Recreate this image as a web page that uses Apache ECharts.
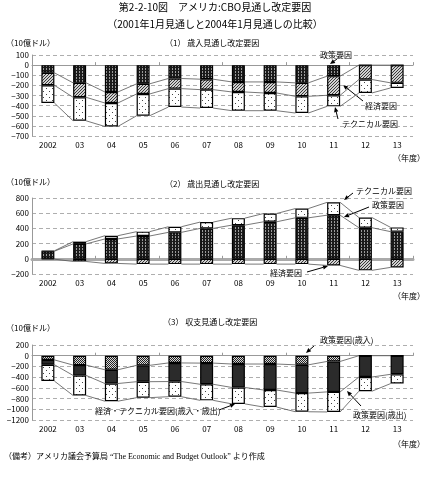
<!DOCTYPE html>
<html><head><meta charset="utf-8">
<script src="https://cdn.jsdelivr.net/npm/echarts@6/dist/echarts.min.js"></script>
<style>html,body{margin:0;padding:0;background:#fff}#c{width:430px;height:477px}</style>
</head><body><div id="c"></div>
<script>
// ---- data ----
const years = ['2002','03','04','05','06','07','08','09','10','11','12','13'];
// (1) revenue revision factors
const revPolicy = [-76,-175,-265,-185,-132,-139,-166,-166,-175,-109,0,0];
const revEcon   = [-123,-143,-109,-100,-100,-103,-99,-109,-133,-189,-142,-175];
const revTech   = [-175,-232,-232,-215,-182,-182,-185,-175,-165,-109,-133,-50];
// (2) outlay revision factors
const outPolicy = [100,196,261,300,348,400,443,487,539,574,409,357];
const outTech   = [5,30,43,57,74,83,92,109,122,169,134,56];
const outEcon   = [-5,-35,-61,-70,-70,-70,-70,-70,-70,-87,-152,-113];
// (3) balance revision factors
const balPolRev   = [-78,-175,-262,-180,-135,-138,-155,-155,-170,-107,0,0];
const balPolOut   = [-90,-193,-257,-305,-347,-395,-438,-485,-528,-568,-398,-347];
const balEconTech = [-305,-375,-330,-298,-283,-300,-306,-318,-348,-375,-265,-173];

const BAR_W = 13;
const FONT = '"Noto Sans CJK JP","Noto Sans",sans-serif';

function pat(w,h,bg,fg,pts){
  const c=document.createElement('canvas');c.width=w;c.height=h;
  const x=c.getContext('2d');x.fillStyle=bg;x.fillRect(0,0,w,h);x.fillStyle=fg;
  pts.forEach(p=>x.fillRect(p[0],p[1],1,1));
  return {image:c,repeat:'repeat'};
}
const darkCross = pat(3,3,'#1a1a1a','#9a9a9a',[[1,0],[1,2]]);
const diagHatch = pat(3,3,'#d0d0d0','#3a3a3a',[[0,2],[1,1],[2,0]]);
const dotted    = pat(6,6,'#fff','#444',[[1,1],[4,4]]);
const checker   = pat(2,2,'#d8d8d8','#222',[[0,0],[1,1]]);
const solidDark = '#2b2b2b';

function cum(){ const arrs=[...arguments]; return years.map((_,i)=>arrs.reduce((s,a)=>s+a[i],0)); }

function bar(name,data,g,color,stack){
  return {type:'bar',name,data,xAxisIndex:2*g,yAxisIndex:g,stack,barWidth:BAR_W,
    itemStyle:{color,borderColor:'#000',borderWidth:1.2},silent:true,animation:false};
}
function connector(vals,g){
  const data=[];
  for(let i=0;i<vals.length-1;i++) data.push([i,vals[i],vals[i+1]]);
  return {type:'custom',xAxisIndex:2*g,yAxisIndex:g,silent:true,z:1,animation:false,
    encode:{x:0,y:[1,2]},data,
    renderItem(params,api){
      const i=api.value(0);
      const a=api.coord([i,api.value(1)]);
      const b=api.coord([i+1,api.value(2)]);
      const hw=BAR_W/2;
      return {type:'line',shape:{x1:a[0]+hw,y1:a[1],x2:b[0]-hw,y2:b[1]},
        style:{stroke:'#555',lineWidth:0.8}};
    }};
}

const grids=[{left:32,right:17,top:55,height:81},{left:32,right:17,top:198,height:76},{left:32,right:17,top:345,height:75}];
const yRanges=[[-700,100,100],[-200,800,200],[-1200,200,200]];
const zeroW=[1,3,1];
const xAxis=[],yAxis=[];
grids.forEach((gr,g)=>{
  xAxis.push({type:'category',gridIndex:g,data:years,axisLine:{onZero:true,lineStyle:{color:g===1?'#aaa':'#999',width:zeroW[g]}},
    axisTick:{show:true,inside:true,length:3,lineStyle:{color:'#999'}},axisLabel:{show:false},splitLine:{show:false}});
  xAxis.push({type:'category',gridIndex:g,data:years,position:'bottom',axisLine:{show:false,onZero:false},axisTick:{show:false},
    axisLabel:{fontSize:8,color:'#000',margin:5,fontFamily:FONT},splitLine:{show:false}});
  yAxis.push({type:'value',gridIndex:g,min:yRanges[g][0],max:yRanges[g][1],interval:yRanges[g][2],
    axisLine:{show:true,lineStyle:{color:'#999'}},axisTick:{show:false},
    axisLabel:{fontSize:8,color:'#000',margin:3,fontFamily:FONT,formatter:v=>String(v).replace('-','−')},
    splitLine:{show:true,lineStyle:{color:'#999',type:[4,3],width:0.8}}});
});

const series=[
  bar('政策要因',revPolicy,0,darkCross,'r'),
  bar('経済要因',revEcon,0,diagHatch,'r'),
  bar('テクニカル要因',revTech,0,dotted,'r'),
  connector(cum(revPolicy),0),connector(cum(revPolicy,revEcon),0),connector(cum(revPolicy,revEcon,revTech),0),
  bar('政策要因',outPolicy,1,darkCross,'o'),
  bar('テクニカル要因',outTech,1,dotted,'o'),
  bar('経済要因',outEcon,1,diagHatch,'o'),
  connector(cum(outPolicy),1),connector(cum(outPolicy,outTech),1),connector(cum(outEcon),1),
  bar('政策要因(歳入)',balPolRev,2,checker,'b'),
  bar('政策要因(歳出)',balPolOut,2,solidDark,'b'),
  bar('経済・テクニカル要因(歳入・歳出)',balEconTech,2,dotted,'b'),
  connector(cum(balPolRev),2),connector(cum(balPolRev,balPolOut),2),connector(cum(balPolRev,balPolOut,balEconTech),2)
];

function txt(text,x,y,size,align,font){
  return {type:'text',silent:true,style:{text,x,y,font:(size||8)+'px '+(font||FONT),fill:'#000',textAlign:align||'left',textVerticalAlign:'middle'}};
}
function arrow(x1,y1,x2,y2){
  const ang=Math.atan2(y2-y1,x2-x1),L=5,W=2.2;
  const bx=x2-L*Math.cos(ang),by=y2-L*Math.sin(ang);
  const px=-Math.sin(ang)*W,py=Math.cos(ang)*W;
  return [
    {type:'line',silent:true,shape:{x1,y1,x2:bx,y2:by},style:{stroke:'#000',lineWidth:1}},
    {type:'polygon',silent:true,shape:{points:[[x2,y2],[bx+px,by+py],[bx-px,by-py]]},style:{fill:'#000'}}
  ];
}
const graphic=[
  txt('第2-2-10図　アメリカ:CBO見通し改定要因',215,7,10,'center'),
  txt('（2001年1月見通しと2004年1月見通しの比較）',215,24,10,'center'),
  txt('（10億ドル）',6,43,8),
  txt('（1） 歳入見通し改定要因',165,43,8),
  txt('（年度）',425,158,8,'right'),
  txt('政策要因',320,55,8),
  ...arrow(337,59,330,64),
  txt('経済要因',365,106,8),
  ...arrow(363,101,343,85),
  txt('テクニカル要因',342,124,8),
  ...arrow(338,119,335,107),

  txt('（10億ドル）',6,182,8),
  txt('（2） 歳出見通し改定要因',165,184,8),
  txt('（年度）',425,296,8,'right'),
  txt('テクニカル要因',356,191,8),
  ...arrow(353,193,344,200),
  txt('政策要因',372,205,8),
  ...arrow(369,207,344,217),
  txt('経済要因',270,273,8),
  ...arrow(307,272,328,266),

  txt('（10億ドル）',6,328,8),
  txt('（3） 収支見通し改定要因',163,322,8),
  txt('（年度）',425,444,8,'right'),
  txt('政策要因(歳入)',320,340,8),
  ...arrow(314,346,306,353),
  txt('政策要因(歳出)',353,415,8),
  ...arrow(361,406,347,391),
  txt('経済・テクニカル要因(歳入・歳出)',95,411,8),
  ...arrow(219,410,235,404),

  txt('（備考）アメリカ議会予算局 “The Economic and Budget Outlook” より作成',4,457,8,'left','"Liberation Serif","Noto Sans CJK JP",serif')
];

const chart=echarts.init(document.getElementById('c'),null,{renderer:'canvas'});
chart.setOption({animation:false,backgroundColor:'#fff',grid:grids,xAxis,yAxis,series,graphic});
</script></body></html>
